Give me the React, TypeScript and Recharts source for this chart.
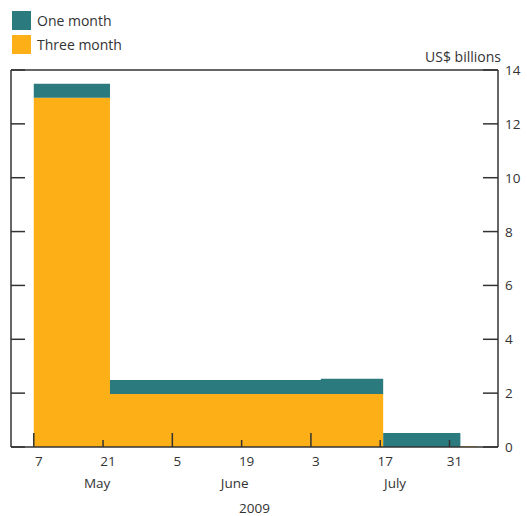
import { AreaChart, Area, XAxis, YAxis } from "recharts";

// days counted from 7 May 2009
const days = [0, 15.4, 58, 70.6, 86.2, 89.6];
const threeMonth = [12.97, 1.97, 1.97, 0, 0.03, 0];
const oneMonth = [0.52, 0.52, 0.56, 0.52, 0, 0];

const dayTicks = [0, 14, 28, 42, 56, 70, 84];
const dayLabels = ["7", "21", "5", "19", "3", "17", "31"];
const longTicks = [0, 28, 56];
const monthTicks = [12.8, 40.6, 73];
const monthLabels = ["May", "June", "July"];
const yTicks = [0, 2, 4, 6, 8, 10, 12, 14];

const data = days.map((d, i) => ({
  day: d,
  three: threeMonth[i],
  one: oneMonth[i],
}));

const TEAL = "#2b7a7e";
const ORANGE = "#fcaf17";
const INK = "#333";
const FONT = "'Open Sans', sans-serif";
const X_DOMAIN: [number, number] = [-4.6, 93.8];

const DayTick = (props: any) => {
  const { x, y, payload } = props;
  const idx = dayTicks.indexOf(payload.value);
  const len = longTicks.includes(payload.value) ? 14 : 7;
  return (
    <g>
      <line x1={x} x2={x} y1={y} y2={y - len} stroke={INK} strokeWidth={1.5} />
      <text x={x + 5} y={y + 19} textAnchor="middle" fill={INK} fontSize={13.5} fontFamily={FONT}>
        {dayLabels[idx]}
      </text>
    </g>
  );
};

const MonthTick = (props: any) => {
  const { x, y, payload } = props;
  const idx = monthTicks.indexOf(payload.value);
  return (
    <text x={x} y={y + 21} textAnchor="middle" fill={INK} fontSize={13.5} fontFamily={FONT}>
      {monthLabels[idx]}
    </text>
  );
};

const LeftTick = (props: any) => {
  const { x, y } = props;
  return <line x1={x} x2={x + 14} y1={y} y2={y} stroke={INK} strokeWidth={1.5} />;
};

const RightTick = (props: any) => {
  const { x, y, payload } = props;
  return (
    <g>
      <line x1={x - 7} x2={x - 22} y1={y} y2={y} stroke={INK} strokeWidth={1.5} />
      <text x={x} y={y + 5} textAnchor="start" fill={INK} fontSize={13.5} fontFamily={FONT}>
        {payload.value}
      </text>
    </g>
  );
};

export default function App() {
  return (
    <div style={{ position: "absolute", left: 0, top: 0, width: 527, height: 516, background: "#fff" }}>
      <AreaChart
        width={527}
        height={516}
        data={data}
        margin={{ top: 69, right: 0, left: 11, bottom: 0 }}
      >
        <XAxis
          dataKey="day"
          type="number"
          domain={X_DOMAIN}
          allowDataOverflow
          ticks={dayTicks}
          interval={0}
          height={20}
          tickSize={0}
          tickMargin={0}
          tickLine={false}
          tick={DayTick}
          axisLine={{ stroke: INK, strokeWidth: 1.5 }}
        />
        <XAxis
          xAxisId="month"
          dataKey="day"
          type="number"
          domain={X_DOMAIN}
          allowDataOverflow
          ticks={monthTicks}
          interval={0}
          height={49}
          tickSize={0}
          tickMargin={0}
          tickLine={false}
          axisLine={false}
          tick={MonthTick}
          label={{ value: "2009", position: "insideBottom", offset: 3, fill: INK, fontSize: 13.5, fontFamily: FONT }}
        />
        <XAxis
          xAxisId="top"
          orientation="top"
          dataKey="day"
          type="number"
          domain={X_DOMAIN}
          allowDataOverflow
          height={1}
          tick={false}
          tickLine={false}
          axisLine={{ stroke: INK, strokeWidth: 1.5 }}
        />
        <YAxis
          yAxisId="left"
          orientation="left"
          type="number"
          domain={[0, 14]}
          allowDataOverflow
          ticks={yTicks}
          interval={0}
          width={1}
          mirror
          tickSize={0}
          tickMargin={0}
          tickLine={false}
          tick={LeftTick}
          axisLine={{ stroke: INK, strokeWidth: 1.5 }}
        />
        <YAxis
          orientation="right"
          type="number"
          domain={[0, 14]}
          allowDataOverflow
          ticks={yTicks}
          interval={0}
          width={29}
          tickSize={0}
          tickMargin={7}
          tickLine={false}
          tick={RightTick}
          axisLine={{ stroke: INK, strokeWidth: 1.5 }}
        />
        {/* keeps the left (tick-only) axis tied to the data */}
        <Area
          yAxisId="left"
          dataKey="three"
          type="stepAfter"
          fill="none"
          stroke="none"
          isAnimationActive={false}
        />
        <Area
          dataKey="three"
          stackId="a"
          type="stepAfter"
          fill={ORANGE}
          fillOpacity={1}
          stroke="none"
          isAnimationActive={false}
        />
        <Area
          dataKey="one"
          stackId="a"
          type="stepAfter"
          fill={TEAL}
          fillOpacity={1}
          stroke="none"
          isAnimationActive={false}
        />
      </AreaChart>
      <div style={{ position: "absolute", left: 12, top: 11, fontFamily: FONT, fontSize: 14, color: INK }}>
        <div style={{ display: "flex", alignItems: "center", height: 19, marginBottom: 5 }}>
          <span style={{ width: 19, height: 19, background: TEAL, marginRight: 6 }} />
          One month
        </div>
        <div style={{ display: "flex", alignItems: "center", height: 19 }}>
          <span style={{ width: 19, height: 19, background: ORANGE, marginRight: 6 }} />
          Three month
        </div>
      </div>
      <div style={{ position: "absolute", right: 26, top: 47, fontFamily: FONT, fontSize: 14, color: INK }}>
        US$ billions
      </div>
    </div>
  );
}
